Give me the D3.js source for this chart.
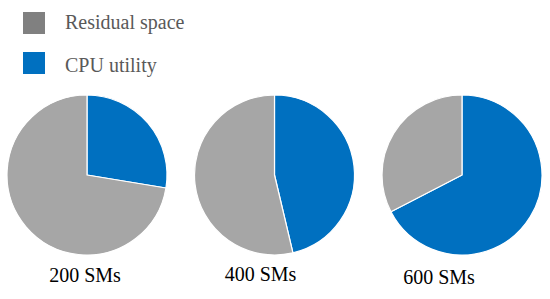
<!DOCTYPE html>
<html><head><meta charset="utf-8">
<script src="https://cdn.jsdelivr.net/npm/d3@7"></script>
<style>html,body{margin:0;padding:0;background:#fff;}svg{display:block;}</style>
</head><body>
<script>
const categories = ["200 SMs", "400 SMs", "600 SMs"];
const seriesNames = ["CPU utility", "Residual space"];
const cpuUtility = [27.6, 46.3, 67.4];
const residualSpace = [72.4, 53.7, 32.6];

const W = 550, H = 299;
const colors = {"CPU utility": "#0070C0", "Residual space": "#A6A6A6"};
const legendColors = {"CPU utility": "#0070C0", "Residual space": "#808080"};

const svg = d3.select("body").append("svg").attr("width", W).attr("height", H);

const x = d3.scalePoint().domain(categories).range([87, 462]);
const cy = 175, r = 80;
const labelDx = [-2, -14, -23];
const labelY = [282, 281, 284];

const pie = d3.pie().sort(null).value(d => d.value).startAngle(0).endAngle(2 * Math.PI);
const arc = d3.arc().innerRadius(0).outerRadius(r);

categories.forEach((c, i) => {
  const data = [
    {name: "CPU utility", value: cpuUtility[i]},
    {name: "Residual space", value: residualSpace[i]}
  ];
  const g = svg.append("g").attr("transform", `translate(${x(c)},${cy})`);
  g.selectAll("path").data(pie(data)).join("path")
    .attr("d", arc)
    .attr("fill", d => colors[d.data.name])
    .attr("stroke", "#fff").attr("stroke-width", 1.2).attr("stroke-linejoin", "round");
  svg.append("text")
    .attr("x", x(c) + labelDx[i]).attr("y", labelY[i])
    .attr("text-anchor", "middle")
    .attr("font-family", "'Liberation Serif', 'Times New Roman', serif")
    .attr("font-size", 20).attr("fill", "#000")
    .text(c);
});

// legend
const legendOrder = ["Residual space", "CPU utility"];
const lg = svg.append("g");
legendOrder.forEach((n, i) => {
  lg.append("rect").attr("x", 23).attr("y", 12 + i * 40).attr("width", 22).attr("height", 22)
    .attr("fill", legendColors[n]);
  lg.append("text").attr("x", 65).attr("y", 28.5 + i * 43)
    .attr("font-family", "'Liberation Serif', 'Times New Roman', serif")
    .attr("font-size", 20).attr("fill", "#595959").text(n);
});
</script>
</body></html>
